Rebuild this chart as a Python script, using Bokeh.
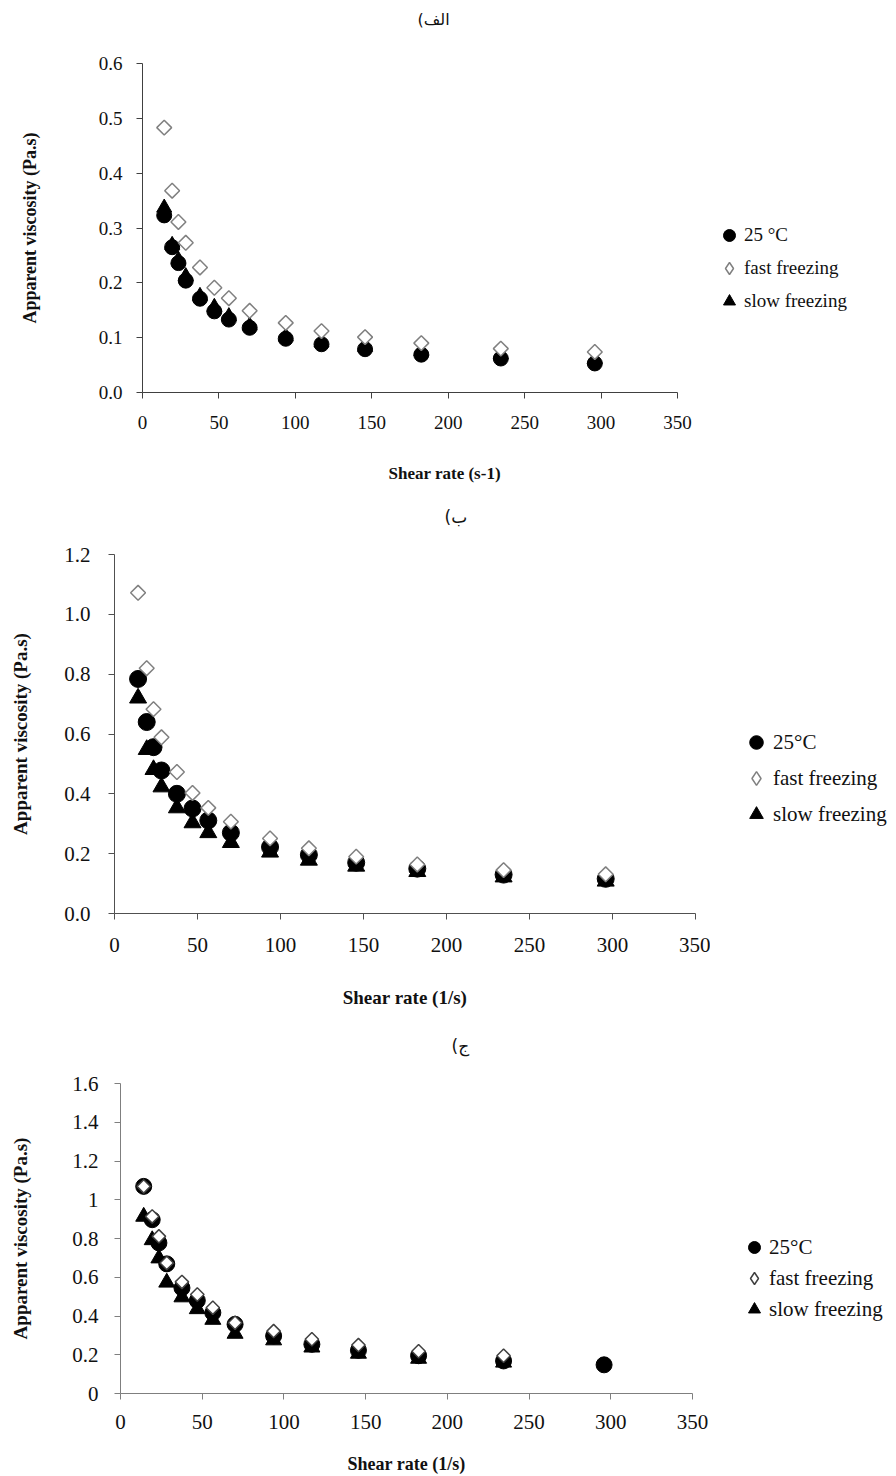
import math
from bokeh.plotting import figure
from bokeh.layouts import row
from bokeh.models import Range1d, FixedTicker, NumeralTickFormatter, Legend, LegendItem, Title
from bokeh.embed import file_html
from bokeh.resources import INLINE

# ---------------- data ----------------
shear_rate = [14.2, 19.4, 23.5, 28.3, 37.6, 47.0, 56.5, 70.1, 93.7, 117.1, 145.6, 182.4, 234.4, 295.9]
x_ticks = [0, 50, 100, 150, 200, 250, 300, 350]

# panel (a)
visc_a_25c = [0.323, 0.265, 0.236, 0.204, 0.171, 0.148, 0.133, 0.118, 0.098, 0.088, 0.079, 0.069, 0.062, 0.053]
visc_a_fast = [0.483, 0.368, 0.311, 0.273, 0.228, 0.191, 0.172, 0.149, 0.127, 0.112, 0.101, 0.090, 0.080, 0.074]
visc_a_slow = [0.337, 0.269, 0.242, 0.212, 0.176, 0.156, 0.139, 0.122, 0.102, 0.091, 0.083, 0.075, 0.069, 0.061]
y_ticks_a = [0.0, 0.1, 0.2, 0.3, 0.4, 0.5, 0.6]

# panel (b)
visc_b_25c = [0.784, 0.640, 0.556, 0.478, 0.400, 0.351, 0.311, 0.270, 0.222, 0.196, 0.170, 0.150, 0.130, 0.116]
visc_b_fast = [1.072, 0.820, 0.683, 0.589, 0.473, 0.403, 0.353, 0.307, 0.251, 0.218, 0.190, 0.164, 0.145, 0.131]
visc_b_slow = [0.720, 0.548, 0.481, 0.423, 0.353, 0.303, 0.270, 0.237, 0.205, 0.178, 0.158, 0.140, 0.122, 0.108]
y_ticks_b = [0.0, 0.2, 0.4, 0.6, 0.8, 1.0, 1.2]

# panel (c)
visc_c_25c = [1.069, 0.897, 0.777, 0.669, 0.545, 0.480, 0.417, 0.357, 0.297, 0.254, 0.223, 0.195, 0.168, 0.148]
visc_c_fast = [1.069, 0.914, 0.811, 0.674, 0.576, 0.511, 0.443, 0.365, 0.322, 0.280, 0.250, 0.218, 0.195]
visc_c_slow = [0.913, 0.792, 0.698, 0.573, 0.497, 0.436, 0.381, 0.309, 0.275, 0.238, 0.206, 0.180, 0.160]
y_ticks_c = [0, 0.2, 0.4, 0.6, 0.8, 1.0, 1.2, 1.4, 1.6]

panel_titles = ["الف)\u200f", "ب)\u200f", "ج)\u200f"]
x_titles = ["Shear rate (s-1)", "Shear rate (1/s)", "Shear rate (1/s)"]
y_title = "Apparent viscosity (Pa.s)"
labels_a = ["25 °C", "fast freezing", "slow freezing"]
labels_bc = ["25°C", "fast freezing", "slow freezing"]

SERIF = "Liberation Serif"
W = 896


def add_series(p, c, visible=True):
    n_f, n_s, n_c = len(c["fast"]), len(c["slow"]), len(c["c25"])
    r_slow = p.scatter(shear_rate[:n_s], c["slow"], marker="triangle", size=c["tri"],
                       fill_color="black", line_color="black")
    r_25 = p.scatter(shear_rate[:n_c], c["c25"], marker="circle", size=c["circ"],
                     fill_color="black", line_color="black")
    if visible:
        r_fast = p.scatter(shear_rate[:n_f], c["fast"], marker="square", angle=math.pi / 4,
                           size=c["dia"], fill_color="white", line_color=c["dia_color"],
                           line_width=1.5)
    else:
        r_fast = p.scatter(shear_rate[:n_f], c["fast"], marker="diamond", size=c["dia"],
                           fill_color="white", line_color=c["dia_color"], line_width=1.5)
    for r in (r_slow, r_25, r_fast):
        r.visible = visible
    return r_25, r_fast, r_slow


def make_panel(c):
    left, top, fw, fh = c["frame"]
    fig_h = c["fig_h"]
    main_w = c["main_w"]
    bottom = fig_h - top - fh
    p = figure(width=main_w, height=fig_h, output_backend="svg", toolbar_location=None,
               x_range=Range1d(0, 350), y_range=Range1d(c["yticks"][0], c["yticks"][-1]),
               min_border_left=left, min_border_top=top,
               min_border_right=main_w - left - fw, min_border_bottom=bottom)
    p.outline_line_color = None
    p.xgrid.visible = False
    p.ygrid.visible = False

    for ax in (p.xaxis[0], p.yaxis[0]):
        ax.axis_line_color = c["axis_color"]
        ax.major_tick_line_color = c["axis_color"]
        ax.minor_tick_line_color = None
        ax.major_tick_in = 0
        ax.major_tick_out = 6
        ax.major_label_text_font = SERIF
        ax.major_label_text_font_size = c["tick_fs"]
        ax.major_label_text_color = "#111111"
        ax.axis_label_text_font = SERIF
        ax.axis_label_text_font_style = "bold"
        ax.axis_label_text_color = "#111111"

    xa = p.xaxis[0]
    xa.ticker = FixedTicker(ticks=x_ticks)
    xa.major_label_standoff = c["x_std"]
    if c["xt_off"] is None:
        xa.axis_label = c["xtitle"]
        xa.axis_label_text_font_size = c["xt_fs"]
        xa.axis_label_standoff = c["x_als"]
    else:
        # x-axis title set off-centre under the axis, as in the original
        p.add_layout(Title(text=" ", standoff=c["x_als"], text_font_size="10px"), "below")
        p.add_layout(Title(text=c["xtitle"], align="left", offset=c["xt_off"],
                           vertical_align="top", standoff=0,
                           text_font=SERIF, text_font_size=c["xt_fs"],
                           text_font_style="bold", text_color="#111111"), "below")

    ya = p.yaxis[0]
    ya.ticker = FixedTicker(ticks=c["yticks"])
    ya.formatter = NumeralTickFormatter(format=c["yfmt"])
    ya.axis_label = y_title
    ya.axis_label_text_font_size = c["yt_fs"]
    ya.major_label_standoff = c["y_std"]
    ya.axis_label_standoff = c["y_als"]

    add_series(p, c, visible=True)

    # panel title (a spacer title keeps it at the right height above the frame)
    p.add_layout(Title(text=" ", standoff=c["spacer_std"], text_font_size="10px"), "above")
    p.title = Title(text=c["title"], align="left", offset=c["title_off"],
                    vertical_align="top", standoff=0,
                    text_font="DejaVu Sans", text_font_size=c["title_fs"],
                    text_font_style="normal", text_color="#111111")

    # legend figure to the right of the chart
    q = figure(width=W - main_w, height=fig_h, output_backend="svg", toolbar_location=None,
               x_range=Range1d(0, 1), y_range=Range1d(0, 1),
               x_axis_type=None, y_axis_type=None,
               min_border_left=0, min_border_right=0, min_border_top=top, min_border_bottom=bottom)
    q.outline_line_color = None
    q.xgrid.visible = False
    q.ygrid.visible = False
    r_25, r_fast, r_slow = add_series(q, c, visible=False)
    g = c["leg_glyph"]
    legend = Legend(items=[LegendItem(label=c["labels"][0], renderers=[r_25]),
                           LegendItem(label=c["labels"][1], renderers=[r_fast]),
                           LegendItem(label=c["labels"][2], renderers=[r_slow])],
                    location=c["leg_loc"], glyph_width=g, glyph_height=g,
                    spacing=c["leg_sp"], padding=0, margin=0,
                    label_standoff=c["leg_std"],
                    label_text_font=SERIF, label_text_font_size=c["leg_fs"],
                    label_text_color="#111111",
                    border_line_color=None, background_fill_alpha=0,
                    inactive_fill_alpha=0)
    q.add_layout(legend, "center")
    return row(p, q, spacing=0)


panels = [
    dict(fig_h=500, main_w=700, frame=(142, 63, 535, 329), yticks=y_ticks_a, yfmt="0.0",
         c25=visc_a_25c, fast=visc_a_fast, slow=visc_a_slow, labels=labels_a,
         xtitle=x_titles[0], xt_off=246, title=panel_titles[0], title_off=275, spacer_std=20, title_fs="16px",
         axis_color="#404040", tick_fs="19px", xt_fs="17px", yt_fs="18px",
         x_std=17, x_als=19, y_std=14, y_als=56,
         tri=15, circ=15, dia=10.5, dia_color="#808080",
         leg_glyph=30, leg_sp=3, leg_loc=(14, 76), leg_std=-9, leg_fs="19px"),
    dict(fig_h=522, main_w=710, frame=(114, 54, 581, 359), yticks=y_ticks_b, yfmt="0.0",
         c25=visc_b_25c, fast=visc_b_fast, slow=visc_b_slow, labels=labels_bc,
         xtitle=x_titles[1], xt_off=None, title=panel_titles[1], title_off=330, spacer_std=13, title_fs="17px",
         axis_color="#505050", tick_fs="21px", xt_fs="19px", yt_fs="19px",
         x_std=18, x_als=32, y_std=18, y_als=30,
         tri=17, circ=17, dia=10.5, dia_color="#808080",
         leg_glyph=34, leg_sp=2, leg_loc=(29, 82), leg_std=-13, leg_fs="21px"),
    dict(fig_h=454, main_w=710, frame=(120, 61, 572, 310), yticks=y_ticks_c, yfmt="0.[0]",
         c25=visc_c_25c, fast=visc_c_fast, slow=visc_c_slow, labels=labels_bc,
         xtitle=x_titles[2], xt_off=None, title=panel_titles[2], title_off=331, spacer_std=13, title_fs="17px",
         axis_color="#7f7f7f", tick_fs="21px", xt_fs="18px", yt_fs="19px",
         x_std=15, x_als=22, y_std=16, y_als=38,
         tri=16, circ=16, dia=9.5, dia_color="#404040",
         leg_glyph=30, leg_sp=1, leg_loc=(29, 69), leg_std=-13, leg_fs="21px"),
]

rows = [make_panel(c) for c in panels]

open("out.html", "w").write(file_html(rows, INLINE))
